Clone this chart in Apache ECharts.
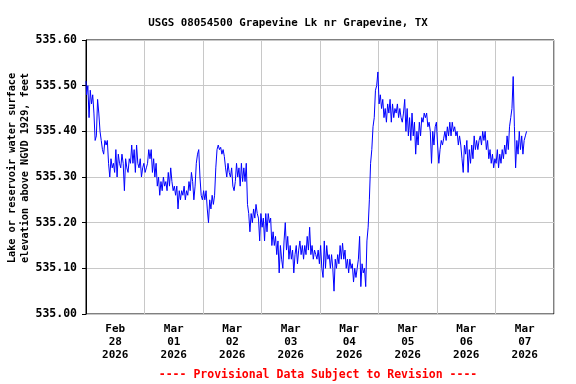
<!DOCTYPE html>
<html>
<head>
<meta charset="utf-8">
<script src="https://cdn.jsdelivr.net/npm/echarts@6/dist/echarts.min.js"></script>
<style>html,body{margin:0;padding:0;background:#fff;}#chart{width:576px;height:384px;}</style>
</head>
<body>
<div id="chart"></div>
<script>
// Day labels (centered at noon of each day)
const dayLabels = ['Feb\n28\n2026','Mar\n01\n2026','Mar\n02\n2026','Mar\n03\n2026','Mar\n04\n2026','Mar\n05\n2026','Mar\n06\n2026','Mar\n07\n2026'];
const yTicks = [535.00, 535.10, 535.20, 535.30, 535.40, 535.50, 535.60];
// sample spacing in hours, starting Feb 28 00:00
const stepHours = 0.5;
// Lake elevation (ft)
const elevFeb28 = [535.51,535.48,535.50,535.43,535.49,535.46,535.48,535.44,535.38,535.39,535.47,535.44,535.40,535.38,535.36,535.35,535.38,535.37,535.38,535.33,535.30,535.34,535.32,535.33,535.31,535.36,535.30,535.35,535.33,535.32,535.35,535.33,535.27,535.34,535.32,535.31,535.34,535.33,535.37,535.33,535.36,535.31,535.37,535.33,535.32,535.34,535.30,535.32];
const elevMar01 = [535.33,535.31,535.32,535.33,535.36,535.34,535.36,535.31,535.34,535.30,535.33,535.28,535.30,535.26,535.29,535.27,535.30,535.28,535.29,535.27,535.31,535.28,535.32,535.29,535.27,535.28,535.26,535.28,535.23,535.27,535.25,535.27,535.26,535.28,535.25,535.27,535.26,535.29,535.27,535.31,535.29,535.25,535.28,535.33,535.35,535.36,535.30,535.26];
const elevMar02 = [535.25,535.27,535.25,535.27,535.23,535.20,535.25,535.23,535.26,535.24,535.26,535.32,535.36,535.37,535.36,535.365,535.35,535.36,535.345,535.32,535.30,535.33,535.31,535.30,535.32,535.28,535.27,535.29,535.33,535.30,535.32,535.28,535.33,535.29,535.32,535.29,535.33,535.24,535.22,535.18,535.22,535.20,535.23,535.21,535.24,535.22,535.21,535.16];
const elevMar03 = [535.22,535.19,535.21,535.16,535.22,535.18,535.22,535.20,535.21,535.15,535.18,535.15,535.17,535.13,535.16,535.09,535.15,535.12,535.10,535.16,535.20,535.14,535.17,535.12,535.15,535.12,535.14,535.09,535.13,535.15,535.11,535.14,535.16,535.13,535.15,535.12,535.15,535.13,535.17,535.14,535.19,535.13,535.15,535.12,535.14,535.13,535.12,535.14];
const elevMar04 = [535.11,535.15,535.10,535.08,535.16,535.10,535.15,535.12,535.13,535.10,535.13,535.10,535.05,535.12,535.10,535.13,535.11,535.15,535.12,535.155,535.12,535.14,535.10,535.12,535.09,535.12,535.10,535.11,535.07,535.10,535.08,535.10,535.12,535.17,535.06,535.11,535.09,535.10,535.06,535.16,535.19,535.25,535.33,535.36,535.41,535.43,535.49,535.50];
const elevMar05 = [535.53,535.46,535.48,535.45,535.47,535.43,535.45,535.42,535.46,535.44,535.47,535.42,535.46,535.43,535.45,535.44,535.46,535.43,535.45,535.43,535.42,535.44,535.47,535.40,535.45,535.39,535.43,535.38,535.44,535.39,535.42,535.35,535.40,535.37,535.42,535.39,535.43,535.42,535.44,535.43,535.44,535.41,535.42,535.40,535.33,535.40,535.37,535.41];
const elevMar06 = [535.42,535.37,535.33,535.36,535.38,535.37,535.385,535.40,535.38,535.41,535.39,535.42,535.39,535.42,535.40,535.41,535.39,535.40,535.37,535.39,535.37,535.34,535.31,535.37,535.35,535.38,535.31,535.36,535.33,535.37,535.34,535.39,535.36,535.38,535.36,535.38,535.39,535.37,535.40,535.38,535.40,535.36,535.38,535.34,535.36,535.33,535.35,535.32];
const elevMar07 = [535.34,535.33,535.36,535.32,535.35,535.33,535.36,535.34,535.37,535.35,535.39,535.36,535.41,535.43,535.45,535.52,535.41,535.32,535.38,535.35,535.40,535.36,535.39,535.35,535.38,535.39,535.40];

const elev = [].concat(elevFeb28, elevMar01, elevMar02, elevMar03, elevMar04, elevMar05, elevMar06, elevMar07);
const seriesData = elev.map((v, i) => [i * stepHours, v]);

const FONT = 'DejaVu Sans Mono';
const chart = echarts.init(document.getElementById('chart'), null, {renderer: 'canvas'});
chart.setOption({
  animation: false,
  backgroundColor: '#ffffff',
  title: {
    text: 'USGS 08054500 Grapevine Lk nr Grapevine, TX',
    left: 'center', top: 13,
    textStyle: {fontFamily: FONT, fontWeight: 'bold', fontSize: 10.8, color: '#000'}
  },
  grid: {left: 86, right: 22, top: 40, bottom: 70, show: true, borderColor: '#000', borderWidth: 1, backgroundColor: 'transparent'},
  xAxis: [
    {
      type: 'value', min: 0, max: 192, interval: 24,
      axisLine: {show: false}, axisTick: {show: false}, axisLabel: {show: false},
      splitLine: {show: true, lineStyle: {color: '#c8c8c8', width: 1}}
    },
    {
      type: 'value', min: 0, max: 192, interval: 12, position: 'bottom',
      axisLine: {show: false}, axisTick: {show: false}, splitLine: {show: false},
      axisLabel: {
        margin: 9, fontFamily: FONT, fontWeight: 'bold', fontSize: 11, color: '#000', lineHeight: 12.7,
        formatter: function (v) {
          if (v % 24 !== 12) return '';
          const idx = Math.round((v - 12) / 24);
          return dayLabels[idx] || '';
        }
      }
    }
  ],
  yAxis: {
    type: 'value', min: yTicks[0], max: yTicks[yTicks.length - 1], interval: 0.1,
    axisLine: {show: true, lineStyle: {color: '#000'}},
    axisTick: {show: true, length: 4, lineStyle: {color: '#000'}},
    axisLabel: {margin: 9, fontFamily: FONT, fontWeight: 'bold', fontSize: 11.5, color: '#000', formatter: v => v.toFixed(2)},
    splitLine: {show: true, lineStyle: {color: '#c8c8c8', width: 1}}
  },
  series: [{
    type: 'line', xAxisIndex: 0, data: seriesData, showSymbol: false, symbol: 'none', step: 'middle',
    lineStyle: {color: '#0000ff', width: 1}, z: 5
  }],
  graphic: [
    {
      type: 'text', x: 18.5, y: 168, rotation: Math.PI / 2,
      style: {
        text: 'Lake or reservoir water surface\nelevation above NGVD 1929, feet',
        fontFamily: FONT, fontWeight: 'bold', fontSize: 10.2, lineHeight: 13,
        fill: '#000', align: 'center', verticalAlign: 'middle'
      }
    },
    {
      type: 'text', x: 318, y: 375,
      style: {
        text: '---- Provisional Data Subject to Revision ----',
        fontFamily: FONT, fontWeight: 'bold', fontSize: 11.5,
        fill: '#ff0000', align: 'center', verticalAlign: 'middle'
      }
    }
  ]
});
</script>
</body>
</html>
